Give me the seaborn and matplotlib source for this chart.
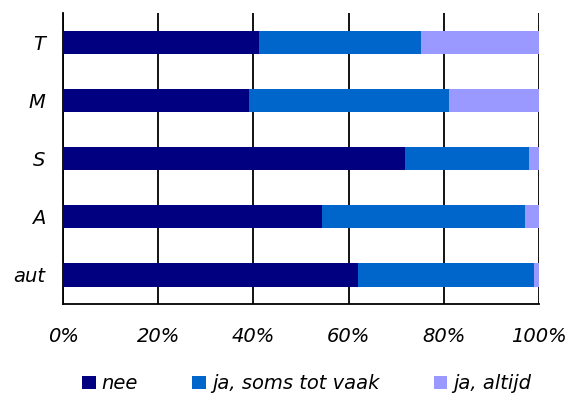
import numpy as np
import pandas as pd
import matplotlib
matplotlib.use("Agg")
import matplotlib.pyplot as plt
import seaborn as sns
from matplotlib.patches import Patch
from matplotlib.ticker import FixedLocator, PercentFormatter

categories = ["T", "M", "S", "A", "aut"]
nee = [41.2, 39.0, 71.9, 54.3, 62.0]
soms_tot_vaak = [34.1, 42.1, 25.9, 42.7, 37.0]
altijd = [24.7, 18.9, 2.2, 3.0, 1.0]
series_names = ["nee", "ja, soms tot vaak", "ja, altijd"]
colors = ["#000080", "#0066CC", "#9999FF"]

df = pd.DataFrame({"cat": categories, "nee": nee,
                   "soms": soms_tot_vaak, "altijd": altijd})
df["c1"] = df["nee"]
df["c2"] = df["nee"] + df["soms"]
df["c3"] = df["c2"] + df["altijd"]

sns.set_style("white")
plt.rcParams["font.family"] = ["DejaVu Sans"]
plt.rcParams["text.color"] = "black"
plt.rcParams["xtick.color"] = "black"
plt.rcParams["ytick.color"] = "black"

fig = plt.figure(figsize=(5.68, 4.12), dpi=100)
ax = fig.add_axes([0.111, 0.262, 0.838, 0.706])

# stacked bars: draw cumulative totals, widest first
for col, color in zip(["c3", "c2", "c1"], colors[::-1]):
    sns.barplot(data=df, x=col, y="cat", order=categories, color=color,
                width=0.4, orient="h", ax=ax, zorder=3, saturation=1,
                linewidth=0, edgecolor="none")

ax.set_xlim(0, 100)
ax.set_ylim(4.5, -0.5)
ax.set_xlabel("")
ax.set_ylabel("")
ax.xaxis.set_major_locator(FixedLocator([0, 20, 40, 60, 80, 100]))
ax.xaxis.set_major_formatter(PercentFormatter(decimals=0))
ax.grid(axis="x", color="black", linewidth=1.3, zorder=0)
ax.set_axisbelow(True)

ax.yaxis.set_minor_locator(FixedLocator(np.arange(-0.5, 5, 1)))
ax.tick_params(axis="y", which="major", length=0, pad=13, labelsize=14)
ax.tick_params(axis="y", which="minor", length=5, width=1.3, direction="out")
ax.tick_params(axis="x", which="major", length=7, width=1.3, direction="inout",
               pad=13, labelsize=14)
for lab in ax.get_xticklabels() + ax.get_yticklabels():
    lab.set_style("italic")

for s in ["top", "right"]:
    ax.spines[s].set_visible(False)
for s in ["left", "bottom"]:
    ax.spines[s].set_color("black")
    ax.spines[s].set_linewidth(1.3)

handles = [Patch(facecolor=c, edgecolor="none") for c in colors]
fig.legend(handles, series_names, loc="center", bbox_to_anchor=(0.54, 0.068), ncol=3,
           frameon=False, handlelength=0.7, handleheight=0.7, handletextpad=0.3,
           columnspacing=2.8, prop={"size": 14, "style": "italic"})

fig.savefig("out.png", dpi=100)
